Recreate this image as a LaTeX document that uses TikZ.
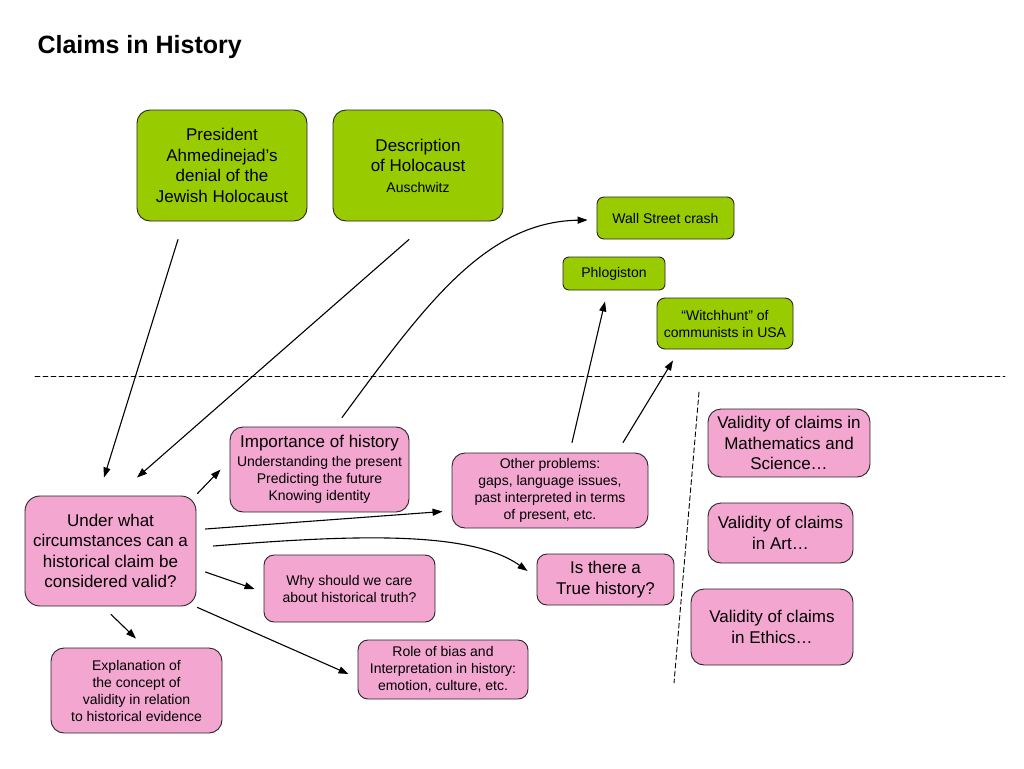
\documentclass[tikz,border=0pt]{standalone}
\usepackage{fontspec}
\setmainfont{Liberation Sans}
\usetikzlibrary{arrows.meta}
\definecolor{grn}{RGB}{153,204,0}
\definecolor{pnk}{RGB}{243,166,208}
\newcommand{\sfs}{\fontsize{14}{17}\selectfont}
\tikzset{
  box/.style={draw=black!85,line width=0.9pt,rounded corners=13pt,align=center,inner sep=2pt,font=\fontsize{17}{20.5}\selectfont},
  gbox/.style={box,fill=grn},
  pbox/.style={box,fill=pnk},
  sm/.style={font=\sfs},
  conn/.style={->,line width=1.1pt},
  sep/.style={line width=0.9pt,dash pattern=on 5pt off 3pt}
}
\begin{document}
\begin{tikzpicture}[line cap=round,line join=round,>={Triangle[length=10pt,width=7pt]},x=1pt,y=-1pt]
\useasboundingbox (0,0) rectangle (1024,768);
\node[anchor=base west,font=\bfseries\fontsize{25}{30}\selectfont] (title) at (34,53) {Claims in History};
\node[gbox,minimum width=170pt,minimum height=111pt] (pres) at (222,165.5) {President\\Ahmedinejad’s\\denial of the\\Jewish Holocaust};
\node[gbox,minimum width=170pt,minimum height=111pt] (desc) at (418,165.5) {Description\\of Holocaust\\\sfs Auschwitz};
\node[gbox,sm,rounded corners=7pt,minimum width=137pt,minimum height=42pt] (wall) at (665.5,218) {Wall Street crash};
\node[gbox,sm,rounded corners=6pt,minimum width=102pt,minimum height=33pt] (phlog) at (614,273.5) {Phlogiston};
\node[gbox,sm,rounded corners=8pt,minimum width=136pt,minimum height=51pt] (witch) at (725,323.5) {“Witchhunt” of\\communists in USA};
\draw[sep] (35,376) -- (1005,376);
\draw[sep] (699,392) -- (674,683);
\node[pbox,sm,minimum width=179pt,minimum height=85pt] (imp) at (319.5,469.5) {\fontsize{17}{20}\selectfont Importance of history\\[2pt]Understanding the present\\Predicting the future\\Knowing identity};
\node[pbox,sm,minimum width=196pt,minimum height=75pt] (other) at (550,490.5) {Other problems:\\gaps, language issues,\\past interpreted in terms\\of present, etc.};
\node[pbox,minimum width=171pt,minimum height=110pt,rounded corners=15pt] (under) at (110.5,551) {Under what\\circumstances can a\\historical claim be\\considered valid?};
\node[pbox,sm,rounded corners=10pt,minimum width=171pt,minimum height=67pt] (why) at (349.5,588.5) {Why should we care\\about historical truth?};
\node[pbox,rounded corners=10pt,minimum width=137pt,minimum height=51pt] (truth) at (605.5,579.5) {Is there a\\True history?};
\node[pbox,sm,minimum width=171pt,minimum height=85pt] (expl) at (136.5,690.5) {Explanation of\\the concept of\\validity in relation\\to historical evidence};
\node[pbox,sm,rounded corners=10pt,minimum width=170pt,minimum height=59pt] (role) at (443,669.5) {Role of bias and\\Interpretation in history:\\emotion, culture, etc.};
\node[pbox,minimum width=162pt,minimum height=68pt] (math) at (789,443) {Validity of claims in\\Mathematics and\\Science…};
\node[pbox,minimum width=145pt,minimum height=60pt] (art) at (780.5,533) {Validity of claims\\in Art…};
\node[pbox,minimum width=162pt,minimum height=76pt] (ethics) at (772,627) {Validity of claims\\in Ethics…};
\draw[conn] ([shift={(-44,18)}]pres.south) -- ([shift={(-6.5,-18)}]under.north);
\draw[conn] ([shift={(-9,18)}]desc.south) -- ([shift={(26.5,-18)}]under.north);
\draw[conn] ([shift={(22.5,-9)}]imp.north) .. controls (425,305) and (485,222) .. ([shift={(-9,2)}]wall.west);
\draw[conn] ([shift={(1,-2)}]under.north east) -- ([shift={(-9,0)}]imp.west);
\draw[conn] ([shift={(9,-22)}]under.east) -- ([shift={(-9,21)}]other.west);
\draw[conn] ([shift={(17,-5)}]under.east) .. controls (350,535) and (470,530) .. ([shift={(-9,-8.5)}]truth.west);
\draw[conn] ([shift={(9,21)}]under.east) -- ([shift={(-9,0.5)}]why.west);
\draw[conn] ([shift={(1,1)}]under.south east) -- ([shift={(-9,4.5)}]role.west);
\draw[conn] ([shift={(0.5,8)}]under.south) -- ([shift={(-0.5,-9)}]expl.north);
\draw[conn] ([shift={(22,-10)}]other.north) -- ([shift={(-9,11)}]phlog.south);
\draw[conn] ([shift={(73,-10)}]other.north) -- ([shift={(-52,11)}]witch.south);
\end{tikzpicture}
\end{document}
